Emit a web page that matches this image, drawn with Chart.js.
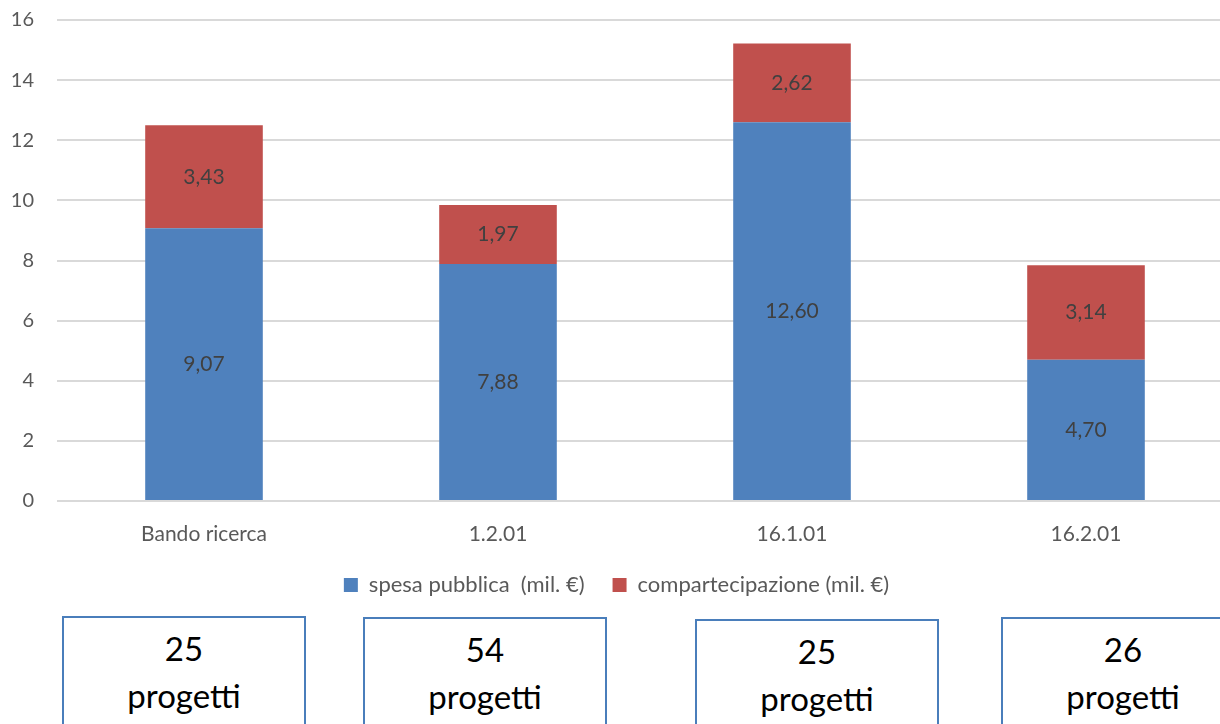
<!DOCTYPE html>
<html>
<head>
<meta charset="utf-8">
<script src="https://cdn.jsdelivr.net/npm/chart.js@4.4.1/dist/chart.umd.min.js"></script>
<style>
  html, body { margin: 0; padding: 0; background: #fff; overflow: hidden; width: 1220px; height: 724px; }
  #wrap { position: absolute; left: 0; top: -15px; width: 1233px; height: 621px; }
  .box { position: absolute; width: 244px; height: 140px; border: 2px solid #4a7ebb; box-sizing: border-box;
         font-family: Lato, "Open Sans", sans-serif; font-size: 33px; line-height: 47px; color: #000;
         text-align: center; padding-top: 7px; background: #fff; }
</style>
</head>
<body>
<div id="wrap"><canvas id="mycanvas"></canvas></div>
<div id="boxes"></div>
<script>
var categorie = ["Bando ricerca", "1.2.01", "16.1.01", "16.2.01"];
var spesaPubblica = [9.07, 7.88, 12.60, 4.70];
var compartecipazione = [3.43, 1.97, 2.62, 3.14];
var progetti = [25, 54, 25, 26];
var boxLeft = [62, 363, 695, 1001];
var boxTop = [616, 617, 619, 617];

// riquadri con il numero di progetti
var boxes = document.getElementById("boxes");
for (var i in progetti) {
    var b = document.createElement("div");
    b.className = "box";
    b.style.left = boxLeft[i] + "px";
    b.style.top = boxTop[i] + "px";
    b.innerHTML = progetti[i] + "<br>progetti";
    boxes.appendChild(b);
}

var etichette = {
    id: 'etichette',
    afterDatasetsDraw: function (chart) {
        var ctx = chart.ctx;
        ctx.save();
        ctx.font = '21px Lato, "Open Sans", sans-serif';
        ctx.fillStyle = '#404040';
        ctx.textAlign = 'center';
        ctx.textBaseline = 'middle';
        chart.data.datasets.forEach(function (ds, di) {
            chart.getDatasetMeta(di).data.forEach(function (bar, j) {
                var y = (bar.y + bar.base) / 2;
                ctx.fillText(ds.data[j].toFixed(2).replace('.', ','), bar.x, y);
            });
        });
        ctx.restore();
    }
};

var ctx = document.getElementById("mycanvas");
new Chart(ctx, {
    type: 'bar',
    data: {
        labels: categorie,
        datasets: [
            {
                label: 'spesa pubblica  (mil. €)',
                backgroundColor: '#4f81bd',
                data: spesaPubblica,
                barPercentage: 0.4,
                categoryPercentage: 1
            },
            {
                label: 'compartecipazione (mil. €)',
                backgroundColor: '#c0504d',
                data: compartecipazione,
                barPercentage: 0.4,
                categoryPercentage: 1
            }
        ]
    },
    options: {
        responsive: true,
        maintainAspectRatio: false,
        animation: false,
        layout: { padding: { top: 5, left: 0, right: 0, bottom: 0 } },
        plugins: {
            tooltip: { enabled: false },
            legend: {
                position: 'bottom',
                labels: {
                    boxWidth: 14,
                    boxHeight: 14,
                    padding: 28,
                    color: '#595959',
                    font: { family: 'Lato, "Open Sans", sans-serif', size: 22 }
                }
            }
        },
        scales: {
            x: {
                stacked: true,
                grid: { display: false, drawTicks: false },
                border: { display: false },
                ticks: {
                    color: '#595959',
                    padding: 21,
                    font: { family: 'Lato, "Open Sans", sans-serif', size: 21 }
                },
                afterFit: function (scale) { scale.height = 45; }
            },
            y: {
                stacked: true,
                min: 0,
                max: 16,
                ticks: {
                    stepSize: 2,
                    color: '#595959',
                    padding: 23,
                    font: { family: 'Lato, "Open Sans", sans-serif', size: 20 }
                },
                grid: { color: '#d9d9d9', lineWidth: 2, drawTicks: false },
                border: { display: false },
                afterFit: function (scale) { scale.width = 57; }
            }
        }
    },
    plugins: [etichette]
});
</script>
</body>
</html>
